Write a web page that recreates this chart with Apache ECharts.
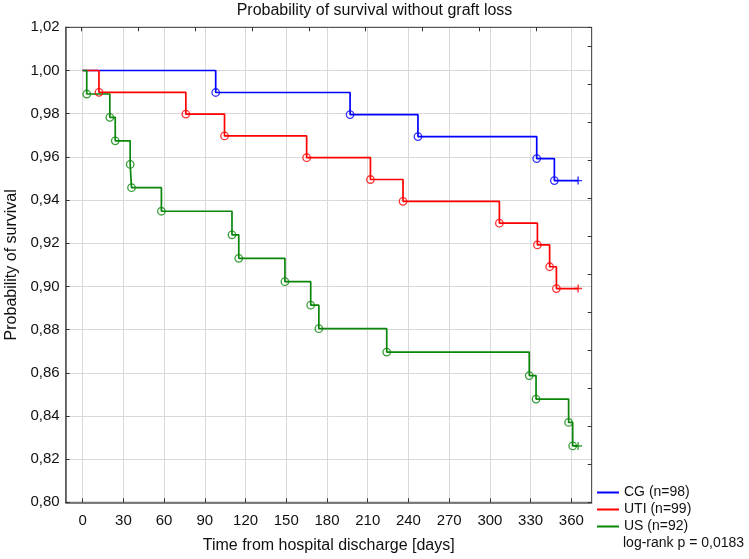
<!DOCTYPE html>
<html>
<head>
<meta charset="utf-8">
<script src="https://cdn.jsdelivr.net/npm/echarts@6/dist/echarts.min.js"></script>
<style>html,body{margin:0;padding:0;background:#fff}#c{width:749px;height:559px}</style>
</head>
<body>
<div id="c"></div>
<script>
const xTicks = [0, 30, 60, 90, 120, 150, 180, 210, 240, 270, 300, 330, 360];
const endTime = 365;

const cgName = 'CG (n=98)';
const cgTimes = [98, 197, 247, 334.5, 347.5];
const cgSurv = [0.9898, 0.9796, 0.9694, 0.9592, 0.9490];

const utiName = 'UTI (n=99)';
const utiTimes = [12, 76, 104.5, 165, 212, 236, 307, 335, 344, 349];
const utiSurv = [0.9899, 0.9798, 0.9697, 0.9596, 0.9495, 0.9394, 0.9293, 0.9192, 0.9091, 0.8990];

const usName = 'US (n=92)';
const usTimes = [3, 20, 24, 35, 36, 58, 110, 115, 149, 168, 174, 224, 329, 334, 358, 361];
const usSurv = [0.9891, 0.9783, 0.9674, 0.9565, 0.9457, 0.9348, 0.9239, 0.9130, 0.9022, 0.8913, 0.8804, 0.8696, 0.8587, 0.8478, 0.8370, 0.8261];

const logRankText = 'log-rank p = 0,0183';

const FONT = "'Liberation Sans', Arial, sans-serif";
const groups = [
  {name: cgName, t: cgTimes, s: cgSurv, color: '#0000ff'},
  {name: utiName, t: utiTimes, s: utiSurv, color: '#ff0000'},
  {name: usName, t: usTimes, s: usSurv, color: '#0a860a'}
];

const series = [];
groups.forEach(g => {
  const events = g.t.map((t, i) => [t, g.s[i]]);
  const last = g.s[g.s.length - 1];
  series.push({
    name: g.name, type: 'line', step: 'end', showSymbol: false, symbol: 'none',
    data: [[0, 1]].concat(events).concat([[endTime, last]]),
    lineStyle: {color: g.color, width: 1.7}, itemStyle: {color: g.color},
    animation: false, z: 2
  });
  series.push({
    name: g.name + ' events', type: 'scatter', data: events,
    symbol: 'circle', symbolSize: 7.5,
    itemStyle: {color: 'rgba(0,0,0,0)', borderColor: g.color, borderWidth: 1.3},
    animation: false, silent: true, z: 3
  });
  series.push({
    name: g.name + ' censored', type: 'scatter', data: [[endTime, last]],
    symbol: 'path://M0,5L10,5M5,0L5,10', symbolSize: 8, symbolKeepAspect: true,
    itemStyle: {color: 'rgba(0,0,0,0)', borderColor: g.color, borderWidth: 1.4},
    animation: false, silent: true, z: 3
  });
});

const chart = echarts.init(document.getElementById('c'), null, {renderer: 'canvas'});
chart.setOption({
  animation: false,
  backgroundColor: '#fff',
  textStyle: {fontFamily: FONT},
  title: {
    text: 'Probability of survival without graft loss',
    left: 'center', top: 3, padding: 0,
    textStyle: {fontFamily: FONT, fontSize: 16, fontWeight: 'normal', color: '#111'}
  },
  grid: {left: 65.7, right: 157.3, top: 27.3, bottom: 56.7, containLabel: false, outerBoundsMode: 'none',
    show: true, borderColor: '#555', borderWidth: 1, backgroundColor: 'transparent'},
  legend: {
    orient: 'vertical', left: 597, top: 485.5, padding: 0,
    data: groups.map(g => g.name),
    icon: 'rect', itemWidth: 22, itemHeight: 2, itemGap: 3,
    textStyle: {fontFamily: FONT, fontSize: 14, color: '#111', lineHeight: 14, padding: 0},
    selectedMode: false
  },
  graphic: [{
    type: 'text', left: 623, top: 536,
    style: {text: logRankText, font: '14px ' + FONT, fill: '#111'}
  }],
  xAxis: [{
    type: 'value', min: -12.5, max: 375,
    name: 'Time from hospital discharge [days]', nameLocation: 'middle', nameGap: 35,
    nameTextStyle: {fontFamily: FONT, fontSize: 16, color: '#111'},
    axisLine: {show: true, onZero: false, lineStyle: {color: '#555', width: 1.5}},
    axisTick: {show: true, inside: true, length: 4, customValues: xTicks, lineStyle: {color: '#333'}},
    axisLabel: {customValues: xTicks, margin: 11, fontFamily: FONT, fontSize: 15, color: '#111'},
    splitLine: {show: true, lineStyle: {color: '#d9d9d9', width: 1}}
  }, {
    type: 'value', position: 'top', min: -0.278, max: 8.98,
    axisLine: {show: true, onZero: false, lineStyle: {color: '#555', width: 1}},
    axisTick: {show: true, inside: true, length: 4, customValues: [0,1,2,3,4,5,6,7,8], lineStyle: {color: '#333'}},
    axisLabel: {show: false}, splitLine: {show: false}
  }],
  yAxis: [{
    type: 'value', min: 0.80, max: 1.02, interval: 0.02,
    name: 'Probability of survival', nameLocation: 'middle', nameGap: 45.5, nameRotate: 90,
    nameTextStyle: {fontFamily: FONT, fontSize: 16, color: '#111'},
    axisLine: {show: true, onZero: false, lineStyle: {color: '#555', width: 1.5}},
    axisTick: {show: true, inside: true, length: 4, lineStyle: {color: '#333'}},
    axisLabel: {margin: 6, fontFamily: FONT, fontSize: 15, color: '#111',
      formatter: v => v.toFixed(2).replace('.', ',')},
    splitLine: {show: true, lineStyle: {color: '#d9d9d9', width: 1}}
  }, {
    type: 'value', position: 'right', min: 0, max: 12.5, interval: 1,
    axisLine: {show: true, onZero: false, lineStyle: {color: '#555', width: 1}},
    axisTick: {show: true, inside: true, length: 4, lineStyle: {color: '#333'}},
    axisLabel: {show: false}, splitLine: {show: false}
  }],
  series: series
});
</script>
</body>
</html>
